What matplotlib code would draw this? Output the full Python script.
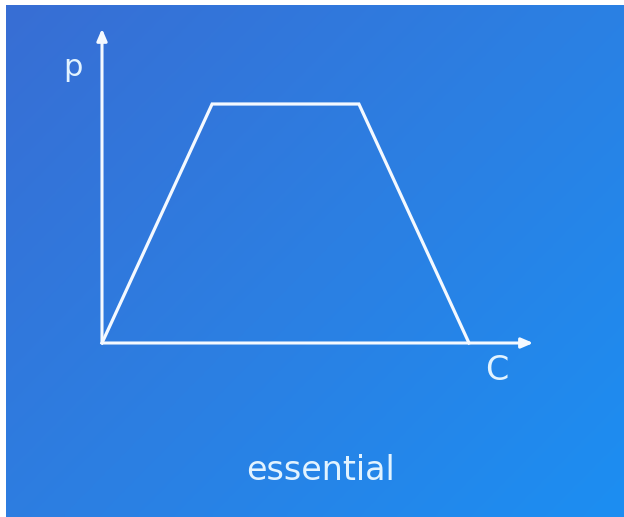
import numpy as np
import matplotlib
matplotlib.use("Agg")
import matplotlib.pyplot as plt
from matplotlib.colors import LinearSegmentedColormap

# Trapezoid profile: p against C
conc = [0, 3, 7, 10]
p_val = [0, 1, 1, 0]
title = "essential"
x_label = "C"
y_label = "p"

W, H = 624, 517
fig = plt.figure(figsize=(W / 100, H / 100), dpi=100)
fig.patch.set_facecolor("white")

# Background panel with a diagonal blue gradient
bg = fig.add_axes([0, 0, 1, 1])
bg.set_xlim(0, W)
bg.set_ylim(H, 0)
bg.axis("off")
yy, xx = np.mgrid[0:1:200j, 0:1:200j]
t = (xx * 0.55 + yy * 0.45)
cmap = LinearSegmentedColormap.from_list("panel", ["#386ed4", "#2c7fe2", "#1c8ef2"])
bg.imshow(t, cmap=cmap, extent=[6, W, H, 5], aspect="auto", interpolation="bicubic")

# Chart axes: origin at (102, 343) px, 36.7 px per C unit, 239 px per p unit
ox, oy = 102, 343
sx, sy = 36.7, 239
xmax, ymax = 12, 1.35
ax = fig.add_axes([ox / W, (H - oy) / H, xmax * sx / W, ymax * sy / H])
ax.set_xlim(0, xmax)
ax.set_ylim(0, ymax)
ax.axis("off")
ax.patch.set_alpha(0)

line_col = "#f4f9ff"
ax.plot(conc, p_val, color=line_col, lw=2.3, solid_joinstyle="miter", clip_on=False)

arrow = dict(arrowstyle="-|>,head_length=0.7,head_width=0.3", color=line_col, lw=2.2,
             shrinkA=0, shrinkB=0)
ax.annotate("", xy=(11.75, 0), xytext=(0, 0), arrowprops=arrow, annotation_clip=False)
ax.annotate("", xy=(0, 1.315), xytext=(0, 0), arrowprops=arrow, annotation_clip=False)

txt_col = "#e2f3ff"
fig.text(73 / W, 1 - 67 / H, y_label, color=txt_col, fontsize=22,
         ha="center", va="center", family="DejaVu Sans")
fig.text(497 / W, 1 - 370 / H, x_label, color=txt_col, fontsize=24,
         ha="center", va="center", family="DejaVu Sans")
fig.text(320 / W, 1 - 471 / H, title, color=txt_col, fontsize=24,
         ha="center", va="center", family="DejaVu Sans")

fig.savefig("out.png", dpi=100, facecolor=fig.get_facecolor())
